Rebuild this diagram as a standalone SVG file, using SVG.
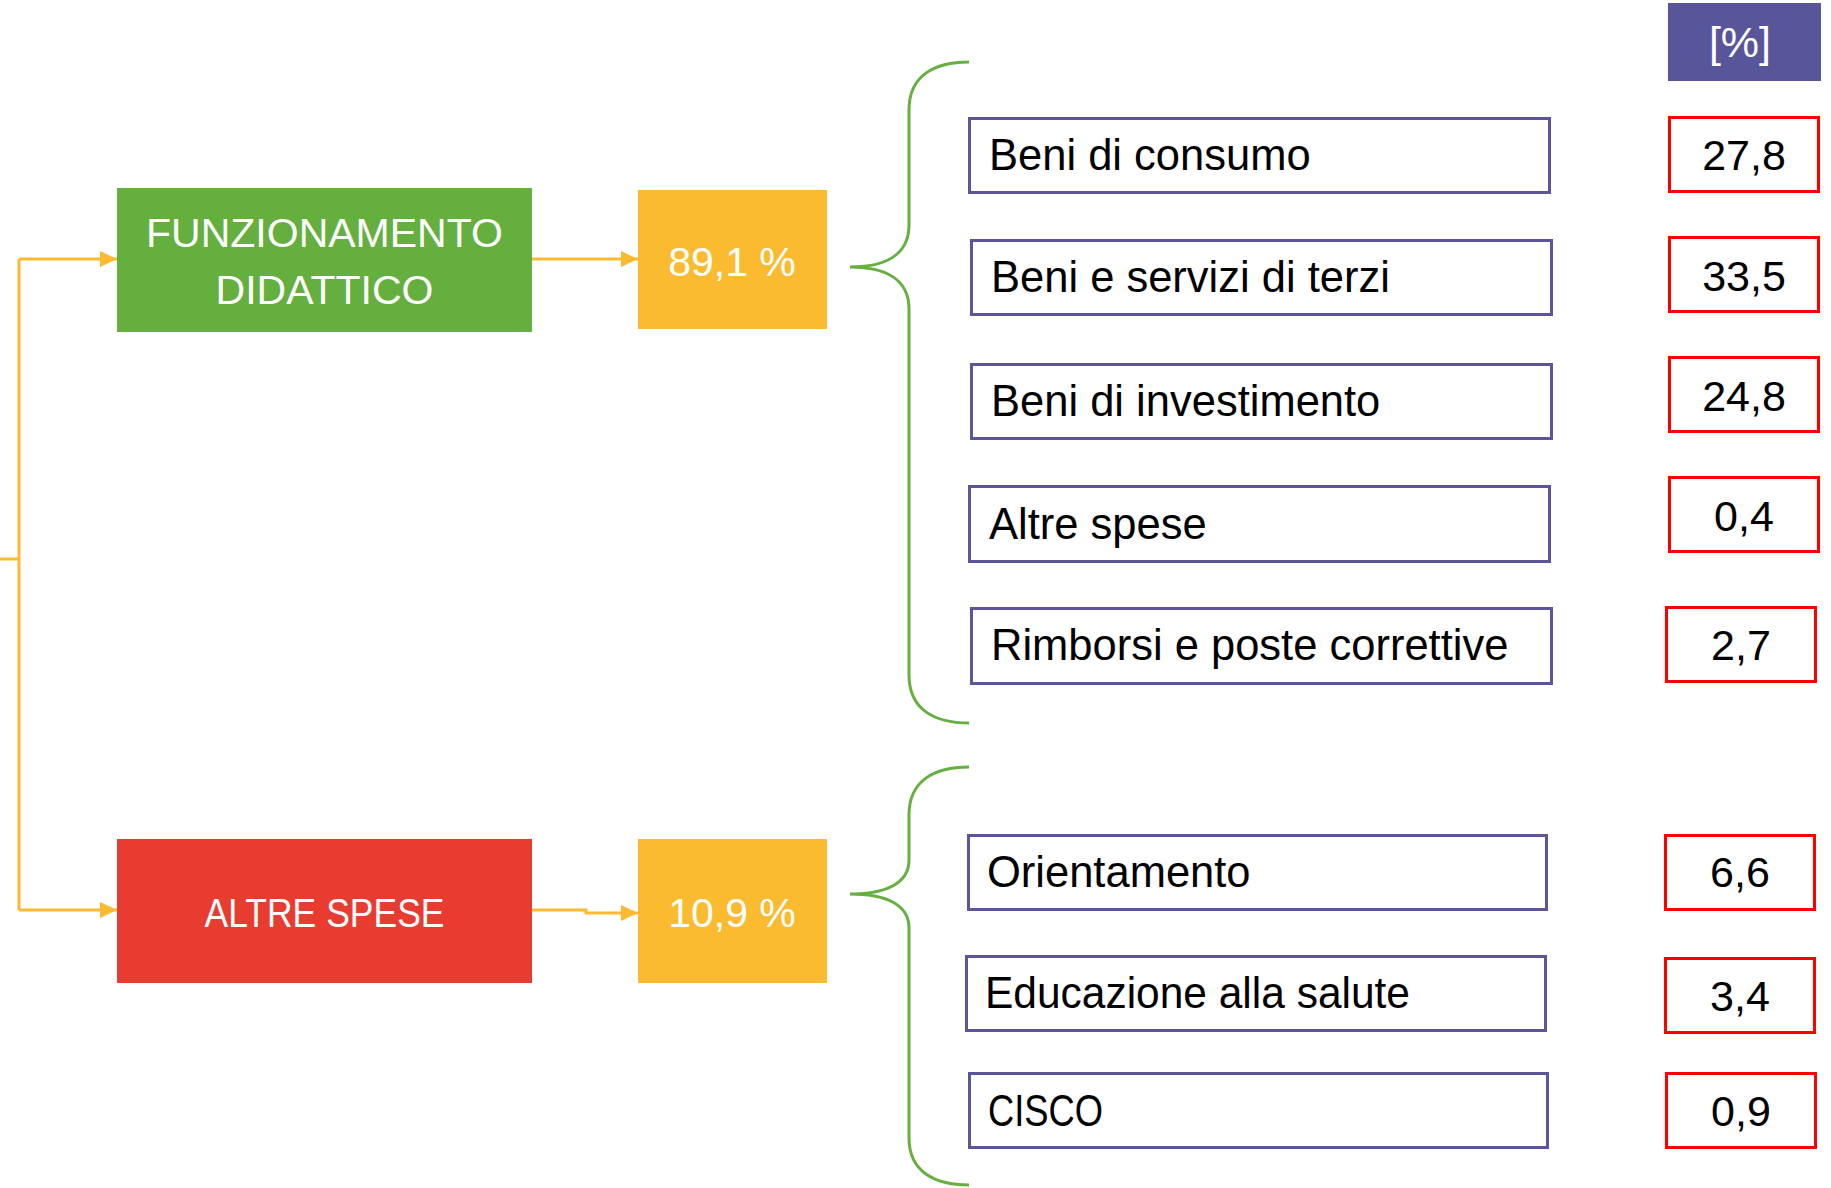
<svg xmlns="http://www.w3.org/2000/svg" width="1831" height="1188" viewBox="0 0 1831 1188">
<style>
.lbl{font-family:"Liberation Sans",Arial,sans-serif;font-size:43.5px;fill:#000}
.val{font-family:"Liberation Sans",Arial,sans-serif;font-size:43px;fill:#000;text-anchor:middle}
.wt{font-family:"Liberation Sans",Arial,sans-serif;font-size:41px;fill:#fff;text-anchor:middle}
.item{fill:#fff;stroke:#5B559B;stroke-width:3}
.vbox{fill:#fff;stroke:#FF0000;stroke-width:3}
.conn{fill:none;stroke:#FBBA30;stroke-width:3}
.brace{fill:none;stroke:#66B040;stroke-width:3}
</style>
<defs>
<marker id="ah" markerUnits="userSpaceOnUse" markerWidth="17" markerHeight="16" refX="17" refY="8" orient="auto">
<path d="M0,0 L17,8 L0,16 z" fill="#FBBA30"/>
</marker>
</defs>
<rect width="1831" height="1188" fill="#fff"/>
<g id="connectors">
<path class="conn" d="M0,559 H19"/>
<path class="conn" d="M19,259 V910"/>
<path class="conn" d="M19,259 H117" marker-end="url(#ah)"/>
<path class="conn" d="M19,910 H117" marker-end="url(#ah)"/>
<path class="conn" d="M532,259 H638" marker-end="url(#ah)"/>
<path class="conn" d="M532,910 H586 V913 H638" marker-end="url(#ah)"/>
<path class="brace" d="M969,62 C935,62 909,75 909,110 L909,225 C909,255 885,267 850,267 C885,267 909,279 909,309 L909,675 C909,710 935,723 969,723"/>
<path class="brace" d="M969,767 C935,767 909,780 909,815 L909,860 C909,884 885,894 850,894 C885,894 909,904 909,928 L909,1138 C909,1172 935,1185 969,1185"/>
</g>
<g id="funzionamento">
<rect x="117" y="188" width="415" height="144" fill="#64AF3D"/>
<text class="wt" x="324.5" y="246.5">FUNZIONAMENTO</text>
<text class="wt" x="324.5" y="304">DIDATTICO</text>
</g>
<g id="pct1">
<rect x="638" y="190" width="189" height="139" fill="#FBBB31"/>
<text class="wt" x="732" y="276">89,1 %</text>
</g>
<g id="altre">
<rect x="117" y="839" width="415" height="144" fill="#E93C31"/>
<text class="wt" x="324.5" y="927" textLength="240" lengthAdjust="spacingAndGlyphs">ALTRE SPESE</text>
</g>
<g id="pct2">
<rect x="638" y="839" width="189" height="144" fill="#FBBB31"/>
<text class="wt" x="732" y="927">10,9 %</text>
</g>
<g id="hdr">
<rect x="1668" y="3" width="153" height="78" fill="#58559A"/>
<text x="1740" y="57" font-family="Liberation Sans, Arial, sans-serif" font-size="43" fill="#fff" text-anchor="middle">[%]</text>
</g>
<g id="i1"><rect class="item" x="969.5" y="118.5" width="580" height="74"/><text class="lbl" x="989" y="170">Beni di consumo</text></g>
<g id="i2"><rect class="item" x="971.5" y="240.5" width="580" height="74"/><text class="lbl" x="991" y="292">Beni e servizi di terzi</text></g>
<g id="i3"><rect class="item" x="971.5" y="364.5" width="580" height="74"/><text class="lbl" x="991" y="416">Beni di investimento</text></g>
<g id="i4"><rect class="item" x="969.5" y="486.5" width="580" height="75"/><text class="lbl" x="989" y="538.5">Altre spese</text></g>
<g id="i5"><rect class="item" x="971.5" y="608.5" width="580" height="75"/><text class="lbl" x="991" y="660">Rimborsi e poste correttive</text></g>
<g id="i6"><rect class="item" x="968.5" y="835.5" width="578" height="74"/><text class="lbl" x="987" y="887">Orientamento</text></g>
<g id="i7"><rect class="item" x="966.5" y="956.5" width="579" height="74"/><text class="lbl" x="985" y="1008" textLength="425" lengthAdjust="spacingAndGlyphs">Educazione alla salute</text></g>
<g id="i8"><rect class="item" x="969.5" y="1073.5" width="578" height="74"/><text class="lbl" x="988" y="1126" textLength="115" lengthAdjust="spacingAndGlyphs">CISCO</text></g>
<g id="v1"><rect class="vbox" x="1669.5" y="117.5" width="149" height="74"/><text class="val" x="1744" y="170">27,8</text></g>
<g id="v2"><rect class="vbox" x="1669.5" y="237.5" width="149" height="74"/><text class="val" x="1744" y="291">33,5</text></g>
<g id="v3"><rect class="vbox" x="1669.5" y="357.5" width="149" height="74"/><text class="val" x="1744" y="411">24,8</text></g>
<g id="v4"><rect class="vbox" x="1669.5" y="477.5" width="149" height="74"/><text class="val" x="1744" y="531">0,4</text></g>
<g id="v5"><rect class="vbox" x="1666.5" y="607.5" width="149" height="74"/><text class="val" x="1741" y="660">2,7</text></g>
<g id="v6"><rect class="vbox" x="1665.5" y="835.5" width="149" height="74"/><text class="val" x="1740" y="887">6,6</text></g>
<g id="v7"><rect class="vbox" x="1665.5" y="958.5" width="149" height="74"/><text class="val" x="1740" y="1011">3,4</text></g>
<g id="v8"><rect class="vbox" x="1666.5" y="1073.5" width="149" height="74"/><text class="val" x="1741" y="1126">0,9</text></g>
</svg>
